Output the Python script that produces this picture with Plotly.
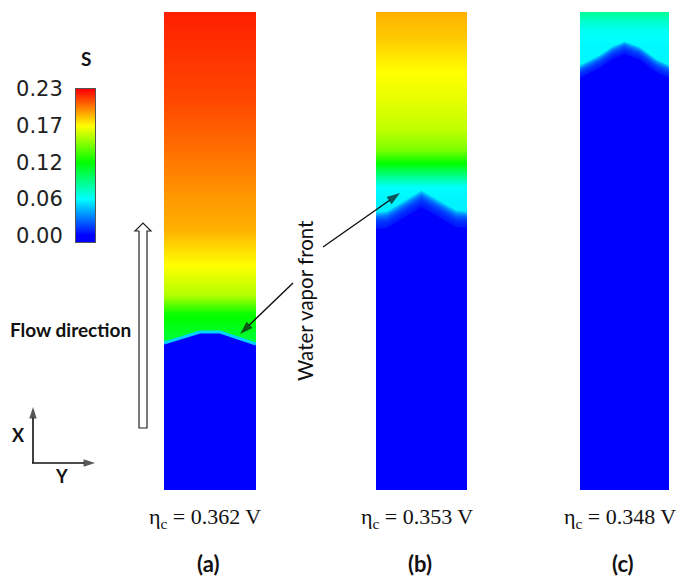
import plotly.graph_objects as go

W, H = 681, 577

# Liquid-water saturation colour map (blue -> cyan -> green -> yellow -> red)
S_MIN, S_MAX = 0.0, 0.23
colorscale = [[0.0, "rgb(0,0,255)"], [0.25, "rgb(0,255,255)"], [0.5, "rgb(0,255,0)"],
              [0.75, "rgb(255,255,0)"], [1.0, "rgb(255,0,0)"]]
cbar_tickvals = [0.0, 0.0575, 0.115, 0.1725, 0.23]
cbar_ticktext = ["0.00", "0.06", "0.12", "0.17", "0.23"]

# Saturation along the channel in the wet region (height x/L, bottom -> top)
h_a = [0.303, 0.335, 0.370, 0.408, 0.471, 0.544, 0.617, 0.711, 0.816, 1.000]
s_a = [0.100, 0.108, 0.118, 0.155, 0.1725, 0.190, 0.196, 0.205, 0.214, 0.223]

h_b = [0.540, 0.607, 0.634, 0.659, 0.684, 0.711, 0.753, 0.816, 0.879, 0.941, 1.000]
s_b = [0.052, 0.055, 0.0575, 0.086, 0.115, 0.142, 0.158, 0.167, 0.173, 0.184, 0.190]

h_c = [0.820, 0.931, 0.962, 0.983, 1.000]
s_c = [0.055, 0.056, 0.060, 0.070, 0.081]

# Water vapour front: position across the channel (y/W) and height (x/L)
front_a_y = [0.0, 0.39, 0.61, 1.0]
front_a_h = [0.3075, 0.3305, 0.3305, 0.3054]

front_b_y = [0.0, 0.12, 0.50, 0.88, 1.0]
front_b_h = [0.546, 0.548, 0.592, 0.550, 0.548]

front_c_y = [0.0, 0.22, 0.37, 0.50, 0.67, 0.86, 1.0]
front_c_h = [0.862, 0.883, 0.902, 0.912, 0.900, 0.874, 0.862]

labels = ["(a)", "(b)", "(c)"]
eta_c = [0.362, 0.353, 0.348]


def px(x):
    return x / W


def py(y):
    return 1 - y / H


panels = [
    dict(h=h_a, s=s_a, fy=front_a_y, fh=front_a_h, x0=164, x1=256, blur=0.0, line=True),
    dict(h=h_b, s=s_b, fy=front_b_y, fh=front_b_h, x0=376, x1=467, blur=0.034, line=False),
    dict(h=h_c, s=s_c, fy=front_c_y, fh=front_c_h, x0=580, x1=669, blur=0.026, line=False),
]

fig = go.Figure()
layout_axes = {}
for i, p in enumerate(panels):
    n = "" if i == 0 else str(i + 1)
    xa, ya = "x" + n, "y" + n
    # wet region: vertical saturation profile
    fig.add_trace(go.Heatmap(
        x=[0, 1], y=p["h"], z=[[v, v] for v in p["s"]],
        zmin=S_MIN, zmax=S_MAX, colorscale=colorscale, zsmooth="best",
        showscale=False, xaxis=xa, yaxis=ya, hoverinfo="skip"))
    # diffuse edge of the front
    layers = 10
    if p["blur"] > 0:
        for k in range(layers, 0, -1):
            off = p["blur"] * k / layers
            fig.add_trace(go.Scatter(
                x=p["fy"] + [1, 0], y=[v + off for v in p["fh"]] + [0, 0],
                mode="lines", fill="toself", fillcolor="rgba(0,0,255,0.2)",
                line=dict(width=0), xaxis=xa, yaxis=ya, hoverinfo="skip"))
    # dry region below the front
    fig.add_trace(go.Scatter(
        x=p["fy"] + [1, 0], y=p["fh"] + [0, 0], mode="lines", fill="toself",
        fillcolor="rgb(0,0,255)", line=dict(width=0), xaxis=xa, yaxis=ya,
        hoverinfo="skip"))
    if p["line"]:
        fig.add_trace(go.Scatter(
            x=p["fy"], y=p["fh"], mode="lines",
            line=dict(color="rgb(0,210,255)", width=3), xaxis=xa, yaxis=ya,
            hoverinfo="skip"))
    layout_axes["xaxis" + n] = dict(domain=[px(p["x0"]), px(p["x1"])], range=[0, 1],
                                   visible=False, anchor=ya, automargin=False)
    layout_axes["yaxis" + n] = dict(domain=[py(490), py(12)], range=[0, 1],
                                   visible=False, anchor=xa, automargin=False)

# colour bar drawn as its own small subplot with a left-hand scale
fig.add_trace(go.Heatmap(
    x=[0, 1], y=[S_MIN, S_MAX], z=[[S_MIN, S_MIN], [S_MAX, S_MAX]],
    zmin=S_MIN, zmax=S_MAX, colorscale=colorscale, zsmooth="best",
    showscale=False, xaxis="x4", yaxis="y4", hoverinfo="skip"))
layout_axes["xaxis4"] = dict(domain=[px(76), px(95)], range=[0, 1], showticklabels=False,
                             ticks="", showgrid=False, zeroline=False, showline=True,
                             mirror=True, linecolor="#555", linewidth=1, anchor="y4",
                             automargin=False)
layout_axes["yaxis4"] = dict(domain=[py(242), py(89)], range=[-0.0105, 0.2301],
                             tickvals=cbar_tickvals, ticktext=cbar_ticktext, ticks="",
                             ticklabelstandoff=8, showgrid=False, zeroline=False,
                             showline=True, mirror=True, linecolor="#555", linewidth=1,
                             tickfont=dict(family="DejaVu Sans", size=21, color="#222"),
                             anchor="x4", automargin=False)

# full-page overlay in pixel units for the pointer arrows
layout_axes["xaxis5"] = dict(domain=[0, 1], range=[0, W], visible=False, anchor="y5",
                             automargin=False)
layout_axes["yaxis5"] = dict(domain=[0, 1], range=[H, 0], visible=False, anchor="x5",
                             automargin=False)


def arrow(x0, y0, x1, y1, width=1.4, head=14):
    fig.add_trace(go.Scatter(
        x=[x0, x1], y=[y0, y1], mode="lines+markers", xaxis="x5", yaxis="y5",
        line=dict(color="#111", width=width),
        marker=dict(symbol="arrow", size=[0, head], angleref="previous", color="#111",
                    line=dict(width=0)),
        hoverinfo="skip"))


arrow(323, 247, 400, 193)
arrow(293, 283, 240, 334)
arrow(33, 463, 33, 407, width=1.6, head=12)
arrow(32, 463, 95, 463, width=1.6, head=12)

sans = "Lato"
ann = []


def text(x, y, t, size, family=sans, angle=0, color="#111"):
    ann.append(dict(x=px(x), y=py(y), xref="paper", yref="paper", text=t,
                    showarrow=False, xanchor="center", yanchor="middle",
                    textangle=angle, font=dict(family=family, size=size, color=color)))


text(86, 58, "<b>S</b>", 19)
text(70, 330, "<b>Flow direction</b>", 19)
text(305, 301, "Water vapor front", 20.5, angle=-90)
text(18.5, 435, "<b>X</b>", 18)
text(61, 476, "<b>Y</b>", 18)

for lab, eta, p in zip(labels, eta_c, panels):
    cx = (p["x0"] + p["x1"]) / 2
    text(cx - 5, 518, "η<sub>c</sub> = %.3f V" % eta, 22, family="Liberation Serif")
    text(cx - 2, 563, "<b>%s</b>" % lab, 22)

# hollow flow-direction arrow
pts = [(139, 428), (139, 231), (135, 231), (143, 223), (151, 231), (147, 231), (147, 428)]
path = "M " + " L ".join("%.5f,%.5f" % (px(x), py(y)) for x, y in pts) + " Z"
shapes = [dict(type="path", path=path, xref="paper", yref="paper",
               line=dict(color="#222", width=1.2), fillcolor="white")]

fig.update_layout(
    width=W, height=H, margin=dict(l=0, r=0, t=0, b=0, autoexpand=False),
    paper_bgcolor="white", plot_bgcolor="rgba(0,0,0,0)", showlegend=False,
    annotations=ann, shapes=shapes, **layout_axes)

fig.write_html("out.html")
